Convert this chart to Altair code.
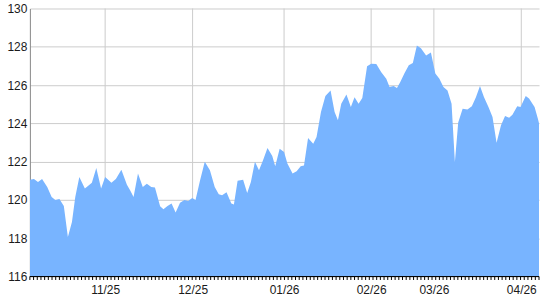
import altair as alt
import pandas as pd

# trading-day index and closing value
day = [0, 1.1, 2.2, 3.3, 4.7, 5.9, 6.9, 8.0, 9.2, 10.3, 11.4, 12.3, 13.4, 14.9, 15.9, 16.8,
       18.0, 19.3, 20.4, 22.1, 23.3, 24.8, 26.3, 27.2, 28.1, 29.3, 30.6, 31.7, 32.9, 33.9,
       35.3, 36.2, 37.3, 38.4, 39.5, 40.7, 41.9, 42.9, 44.0, 44.9, 46.1, 47.4, 48.8, 50.1,
       51.2, 52.1, 53.3, 54.6, 55.3, 56.3, 57.8, 58.9, 59.9, 61.0, 62.1, 63.2, 64.4, 65.7,
       66.5, 67.7, 68.9, 69.8, 71.2, 72.3, 73.4, 74.3, 75.4, 76.8, 77.7, 78.9, 80.1, 81.5,
       82.6, 83.5, 84.4, 85.8, 87.0, 88.0, 89.1, 90.1, 91.4, 92.5, 93.9, 95.2, 96.6, 97.5,
       98.6, 99.5, 100.4, 101.5, 102.7, 103.8, 104.9, 106.0, 107.4, 108.7, 109.9, 111.0,
       112.1, 113.2, 114.3, 115.2, 116.1, 117.3, 118.6, 119.8, 120.9, 122.0, 123.1, 124.3,
       125.4, 126.5, 127.7, 128.8, 129.9, 130.8, 132.1, 133.0, 134.4, 135.3, 136.8, 137.7, 138.0]
value = [121.06, 121.1, 120.94, 121.1, 120.68, 120.16, 120.0, 120.05, 119.69, 118.07, 118.85,
         120.16, 121.2, 120.6, 120.75, 120.9, 121.67, 120.6, 121.2, 120.9, 121.1, 121.58, 120.8,
         120.5, 120.16, 121.38, 120.68, 120.85, 120.68, 120.65, 119.67, 119.51, 119.69, 119.81,
         119.34, 119.86, 120.0, 119.95, 120.1, 120.0, 121.0, 122.0, 121.55, 120.68, 120.3, 120.25,
         120.4, 119.81, 119.76, 121.0, 121.05, 120.36, 120.94, 122.0, 121.55, 122.07, 122.71,
         122.3, 121.76, 122.67, 122.5, 121.9, 121.38, 121.5, 121.76, 121.8, 123.23, 122.94,
         123.29, 124.59, 125.43, 125.72, 124.59, 124.16, 125.03, 125.51, 124.85, 125.36, 125.03,
         125.33, 126.99, 127.11, 127.1, 126.68, 126.33, 125.9, 125.95, 125.85, 126.16, 126.6,
         127.03, 127.15, 128.07, 127.93, 127.55, 127.7, 126.6, 126.33, 125.9, 125.72, 125.03,
         121.98, 124.04, 124.77, 124.73, 124.9, 125.37, 125.95, 125.37, 124.85, 124.33, 122.99,
         123.9, 124.38, 124.3, 124.45, 124.9, 124.85, 125.43, 125.3, 124.85, 124.24, 124.0]

month_pos = [20.4, 44.1, 68.9, 92.5, 109.5, 133.2]
month_lbl = ["11/25", "12/25", "01/26", "02/26", "03/26", "04/26"]
y_ticks = [116, 118, 120, 122, 124, 126, 128, 130]
minor_ticks = list(range(0, 139))

df = pd.DataFrame({"day": day, "value": value})
months = pd.DataFrame({"day": month_pos, "label": month_lbl})
ticks_df = pd.DataFrame({"day": minor_ticks})
base_df = pd.DataFrame({"day": [0]})

label_expr = "".join(
    f"datum.value == {p} ? '{l}' : " for p, l in zip(month_pos, month_lbl)
) + "''"

xscale = alt.Scale(domain=[0, 138], nice=False, zero=False)
yscale = alt.Scale(domain=[116, 130], nice=False, zero=False)

x_axis = alt.Axis(
    orient="bottom", values=month_pos, labelExpr=label_expr,
    grid=False, ticks=False, domain=False, labelPadding=8,
    labelFont="Liberation Sans", labelFontSize=12, labelColor="#1a1a1a",
    labelFlush=False, labelOverlap=False,
)

y_axis = alt.Axis(values=y_ticks, grid=True, gridColor="#cccccc", gridWidth=1,
                  ticks=False, domain=True, domainColor="#888888", domainWidth=1,
                  labelPadding=3, labelFont="Liberation Sans", labelFontSize=12,
                  labelColor="#1a1a1a", labelFlush=False, labelOverlap=False)

vgrid = alt.Chart(months).mark_rule(color="#cccccc", strokeWidth=1).encode(
    x=alt.X("day:Q", scale=xscale, title=None, axis=x_axis),
)

area = alt.Chart(df).mark_area(color="#78b4ff", opacity=1, interpolate="linear", clip=True).encode(
    x=alt.X("day:Q", scale=xscale, title=None, axis=x_axis),
    y=alt.Y("value:Q", scale=yscale, title=None, axis=y_axis),
)

# minor tick marks along the bottom edge (one per trading day)
minor = alt.Chart(ticks_df).mark_rule(color="#000000", strokeWidth=1).encode(
    x=alt.X("day:Q", scale=xscale, title=None, axis=x_axis),
    y=alt.YDatum(116, type="quantitative", scale=yscale, axis=y_axis),
    y2=alt.Y2Datum(115.82),
)

baseline = alt.Chart(base_df).mark_rule(color="#000000", strokeWidth=1).encode(
    x=alt.XDatum(0, type="quantitative", scale=xscale, axis=x_axis),
    x2=alt.X2Datum(138),
    y=alt.YDatum(116, type="quantitative", scale=yscale, axis=y_axis),
)

chart = alt.layer(vgrid, area, minor, baseline).properties(
    width=511, height=269,
    padding={"left": 6, "top": 2, "right": 0, "bottom": 0},
).configure_view(strokeWidth=0)

chart.save("out.html", embed_options={"renderer": "svg", "actions": False})
